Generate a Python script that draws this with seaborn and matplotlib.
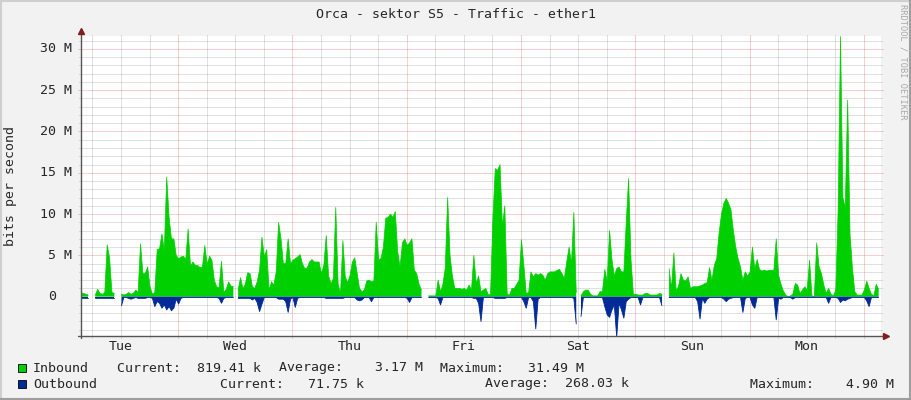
import matplotlib.pyplot as plt
import matplotlib.transforms as mtransforms
from matplotlib.patches import Rectangle
from matplotlib.lines import Line2D
import numpy as np
import pandas as pd
import seaborn as sns

sns.set_style("white")
plt.rcParams['font.family'] = ['DejaVu Sans Mono']

nan = np.nan

# half-hour samples (Mbit/s), graph starts Tue ~03:36
inbound = [
    0.5, 0.4, 0.3, 0.2, nan, nan, 0.2, 0.9, 0.4, 0.3,
    0.5, 6.3, 4.7, 0.5, 0.4, nan, nan, 0.3, 0.2, 0.3,
    0.5, 0.3, 0.4, 0.8, 0.5, 6.4, 2.8, 2.8, 3.6, 1.2,
    0.3, 0.5, 5.7, 5.8, 7.6, 5.6, 14.5, 9.6, 7.0, 7.0,
    5.0, 4.6, 4.8, 4.9, 4.5, 8.2, 3.7, 4.2, 3.8, 3.8,
    3.5, 3.6, 6.2, 3.9, 4.9, 4.4, 2.0, 1.2, 1.1, 4.3,
    0.5, 0.9, 1.8, 1.3, 1.2, nan, 0.8, 2.3, 1.0, 1.5,
    2.9, 2.8, 1.2, 1.0, 1.8, 3.2, 7.2, 4.8, 5.7, 0.8,
    1.8, 1.4, 3.0, 9.0, 7.0, 4.0, 4.0, 7.0, 4.0, 4.4,
    4.6, 4.8, 5.1, 4.0, 3.4, 3.5, 4.2, 4.5, 4.2, 4.2,
    4.2, 2.8, 3.8, 7.4, 2.5, 1.6, 2.2, 10.8, 1.5, 0.4,
    6.8, 2.4, 1.7, 2.6, 4.2, 4.7, 2.8, 1.0, 0.6, 0.8,
    1.9, 2.0, 1.8, 1.9, 9.0, 4.5, 4.6, 6.0, 9.5, 9.6,
    10.0, 9.6, 10.3, 5.5, 3.6, 6.5, 7.0, 6.2, 6.5, 7.0,
    3.2, 2.8, 1.5, 0.8, nan, nan, 0.1, 0.1, 0.1, 0.1,
    2.0, 0.6, 1.5, 3.5, 12.0, 5.0, 2.5, 1.0, 1.0, 1.0,
    0.9, 1.0, 0.8, 1.4, 0.8, 5.0, 1.6, 2.5, 0.6, 0.8,
    1.0, 0.3, 0.2, 9.5, 15.5, 15.3, 16.0, 8.5, 11.0, 0.3,
    0.2, 1.0, 1.0, 1.5, 2.0, 6.9, 3.8, 0.4, 0.5, 3.0,
    2.4, 2.8, 2.6, 2.8, 2.6, 2.0, 2.8, 3.0, 3.0, 3.0,
    3.2, 3.3, 2.8, 2.2, 4.2, 6.0, 4.0, 10.2, 0.5, nan,
    0.1, 0.6, 0.8, 0.8, 0.3, 0.1, 0.1, 0.1, 0.6, 0.6,
    3.3, 1.9, 8.0, 4.5, 2.5, 3.4, 3.6, 3.0, 3.0, 9.0,
    14.3, 4.5, 0.3, 0.3, 0.2, 0.2, 0.2, 0.4, 0.4, 0.2,
    0.2, 0.2, 0.2, 0.4, 0.3, nan, nan, 3.4, 1.0, 5.3,
    0.7, 1.3, 2.8, 2.0, 1.9, 2.4, 1.0, 1.2, 1.2, 1.2,
    1.3, 1.4, 1.6, 1.7, 3.5, 2.0, 3.8, 4.6, 7.7, 10.0,
    11.3, 11.9, 11.3, 10.5, 8.0, 6.0, 4.6, 3.6, 2.0, 3.0,
    2.5, 3.0, 6.0, 3.4, 4.5, 3.3, 3.1, 3.2, 3.1, 3.2,
    3.2, 3.2, 7.0, 2.6, 1.5, 0.7, 0.2, 0.0, 0.1, 0.3,
    1.6, 1.4, 0.4, 0.8, 1.2, 0.8, 4.4, 0.1, 0.0, 6.5,
    3.6, 2.8, 1.4, 0.4, 1.0, 0.3, 0.1, 0.8, 10.5, 31.5,
    12.0, 10.8, 23.8, 7.5, 3.5, 0.6, 0.2, 0.2, 0.2, 0.8,
    1.9, 1.0, 0.3, 0.1, 1.5, 0.9,
]
outbound = [
    0.1, 0.1, 0.1, 0.1, nan, nan, 0.1, 0.1, 0.1, 0.1,
    0.1, 0.1, 0.1, 0.1, 0.1, nan, nan, 1.1, 0.1, 0.1,
    0.2, 0.3, 0.2, 0.1, 0.2, 0.2, 0.2, 0.2, 0.1, 0.1,
    0.2, 1.2, 0.6, 0.8, 1.4, 1.0, 1.6, 1.2, 1.7, 1.4,
    0.3, 0.9, 0.2, 0.1, 0.1, 0.1, 0.1, 0.1, 0.1, 0.1,
    0.1, 0.1, 0.1, 0.1, 0.1, 0.1, 0.1, 0.1, 0.2, 0.8,
    0.2, 0.1, 0.1, 0.1, 0.1, nan, 0.2, 0.2, 0.2, 0.2,
    0.2, 0.2, 0.4, 0.2, 0.7, 1.8, 0.9, 0.1, 0.1, 0.1,
    0.1, 0.1, 0.1, 0.3, 0.3, 0.3, 0.6, 1.9, 0.3, 0.1,
    1.3, 0.2, 0.1, 0.1, 0.1, 0.1, 0.1, 0.1, 0.1, 0.1,
    0.1, 0.1, 0.1, 0.2, 0.2, 0.2, 0.2, 0.2, 0.2, 0.2,
    0.2, 0.1, 0.1, 0.1, 0.1, 0.1, 0.4, 0.5, 0.4, 0.1,
    0.1, 0.1, 0.6, 0.1, 0.1, 0.1, 0.1, 0.1, 0.1, 0.1,
    0.1, 0.1, 0.1, 0.1, 0.1, 0.1, 0.1, 0.2, 0.7, 0.1,
    0.1, 0.1, 0.1, 0.1, nan, nan, 0.1, 0.1, 0.1, 0.1,
    0.2, 1.0, 0.1, 0.1, 0.1, 0.1, 0.1, 0.1, 0.1, 0.1,
    0.1, 0.1, 0.1, 0.1, 0.1, 0.2, 0.2, 0.8, 3.0, 0.1,
    0.1, 0.1, 0.1, 0.1, 0.2, 0.2, 0.2, 0.2, 0.2, 0.1,
    0.1, 0.1, 0.1, 0.1, 0.1, 0.1, 0.6, 1.4, 0.1, 0.1,
    0.6, 3.9, 0.3, 0.1, 0.1, 0.1, 0.1, 0.1, 0.1, 0.1,
    0.1, 0.1, 0.1, 0.1, 0.1, 0.1, 0.1, 0.2, 3.3, nan,
    2.4, 0.1, 0.1, 0.1, 0.1, 0.1, 0.1, 0.1, 0.1, 0.1,
    1.2, 2.2, 2.5, 1.6, 1.0, 4.9, 0.8, 1.6, 2.6, 0.6,
    0.3, 0.1, 0.1, 0.1, 0.1, 1.0, 0.1, 0.1, 0.1, 0.1,
    0.1, 0.1, 0.1, 0.1, 1.1, nan, nan, 0.1, 0.1, 0.1,
    0.1, 0.1, 0.1, 0.1, 0.1, 0.1, 0.1, 0.1, 0.1, 0.6,
    2.7, 0.2, 0.8, 0.3, 0.1, 0.1, 0.1, 0.1, 0.1, 0.1,
    0.3, 0.6, 0.3, 0.2, 0.1, 0.1, 0.1, 0.1, 1.9, 0.2,
    0.1, 0.1, 1.0, 1.4, 0.1, 0.1, 0.1, 0.1, 0.1, 0.1,
    0.1, 0.1, 2.8, 0.2, 0.3, 0.1, 0.1, 0.1, 0.1, 0.3,
    0.1, 0.1, 0.1, 0.1, 0.1, 0.1, 0.1, 0.1, 0.1, 0.1,
    0.1, 0.1, 0.1, 0.1, 0.8, 0.1, 0.1, 0.1, 0.2, 0.7,
    0.4, 0.5, 0.3, 0.2, 0.1, 0.1, 0.1, 0.1, 0.1, 0.1,
    0.5, 1.2, 0.1, 0.1, 0.1, 0.1,
]
days = ['Tue', 'Wed', 'Thu', 'Fri', 'Sat', 'Sun', 'Mon']
first_midnight = 20.4   # hours after graph start
y_labels = [0, 5, 10, 15, 20, 25, 30]

series_names = ['Inbound', 'Outbound']
series_colors = ['#00CF00', '#002A97']
stats = [
    ['Current:  819.41 k', 'Average:    3.17 M', 'Maximum:   31.49 M'],
    ['Current:   71.75 k', 'Average:  268.03 k', 'Maximum:    4.90 M'],
]

W, H = 911, 400
FS = 9.5
df = pd.DataFrame({'hours': np.arange(len(inbound)) * 0.5,
                   'inbound': inbound, 'outbound': outbound})
df['outbound_neg'] = -df['outbound']
# separate runs of known data so lines do not bridge unknown gaps
df['seg'] = df['inbound'].isna().cumsum()

fig = plt.figure(figsize=(W / 100, H / 100), dpi=100, facecolor='#F2F2F2')
ax = fig.add_axes([81 / W, 64 / H, 800 / W, 300 / H])
ax.set_facecolor('white')
for s in ax.spines.values():
    s.set_visible(False)

ymin, ymax = -4.76, 31.56
ax.set_xlim(0, 168)
ax.set_ylim(ymin, ymax)
px_x = 168 / 800.0
px_y = (ymax - ymin) / 300.0

# grid
dot = (0, (1, 1))
grid_col = (0.56, 0.56, 0.56, 0.55)
mgrid_col = (0.87, 0.31, 0.31, 0.55)
minor_y = [v for v in range(-4, 32) if v % 5 != 0]
major_y = [v for v in range(5, 32, 5)]
ax.hlines(minor_y, -2 * px_x, 168 + 2 * px_x, colors=[grid_col], linestyles=[dot], lw=0.72, zorder=1, clip_on=False)
ax.hlines(major_y, -3 * px_x, 168 + 2 * px_x, colors=[mgrid_col], linestyles=[dot], lw=0.72, zorder=1, clip_on=False)
six = np.arange(first_midnight - 18, 168, 6)
mid = [t for t in six if abs(((t - first_midnight) / 24) - round((t - first_midnight) / 24)) < 1e-6]
minor_x = [t for t in six if t not in mid]
ax.vlines(minor_x, ymin - 2 * px_y, ymax + 2 * px_y, colors=[grid_col], linestyles=[dot], lw=0.72, zorder=1, clip_on=False)
ax.vlines(mid, ymin - 2 * px_y, ymax + 2 * px_y, colors=[mgrid_col], linestyles=[dot], lw=0.72, zorder=1, clip_on=False)

# data
ax.fill_between(df['hours'], 0, df['inbound'], color=series_colors[0], lw=0, zorder=2)
ax.fill_between(df['hours'], 0, df['outbound_neg'], color=series_colors[1], lw=0, zorder=3)
sns.lineplot(data=df, x='hours', y='inbound', units='seg', estimator=None, ax=ax,
             color=series_colors[0], lw=0.5, zorder=2)
sns.lineplot(data=df, x='hours', y='outbound_neg', units='seg', estimator=None, ax=ax,
             color=series_colors[1], lw=0.6, zorder=3)
ax.set_xlabel('')
ax.set_ylabel('')

# axes + arrows
axis_col = '#555555'
arrow_col = '#801F1F'
ax.plot([-3 * px_x, 168 + 4 * px_x], [ymin, ymin], color=axis_col, lw=1.0, clip_on=False, zorder=5)
ax.plot([0, 0], [ymin - 2 * px_y, ymax + 2 * px_y], color=axis_col, lw=1.0, clip_on=False, zorder=5)
ax.plot([1.0 + 5 / 800], [0], marker='>', ms=5, color=arrow_col, transform=ax.transAxes, clip_on=False, zorder=6)
ax.plot([0], [1.0 + 5 / 300], marker='^', ms=5, color=arrow_col, transform=ax.transAxes, clip_on=False, zorder=6)

# x tick labels (days at noon)
noon = [first_midnight - 12 + 24 * k for k in range(len(days))]
ax.set_xticks(noon)
ax.set_xticklabels(days, fontsize=FS)
ax.set_yticks([])
ax.tick_params(axis='x', length=0, pad=3)

# y tick labels
tr = mtransforms.blended_transform_factory(ax.transAxes, ax.transData)
for v in y_labels:
    if v == 0:
        ax.text(-25 / 800, v, '0', transform=tr, ha='right', va='center', fontsize=FS)
    else:
        ax.text(-9 / 800, v, f'{v} M', transform=tr, ha='right', va='center', fontsize=FS)

# titles
fig.text(0.5, 1 - 15 / H, 'Orca - sektor S5 - Traffic - ether1', ha='center', va='center', fontsize=FS)
fig.text(11 / W, 1 - 186 / H, 'bits per second', rotation=90, ha='center', va='center', fontsize=FS)
fig.text(903 / W, 1 - 4 / H, 'RRDTOOL / TOBI OETIKER', rotation=270, ha='center', va='top',
         fontsize=6.2, color='#A8A8A8')

# legend
row_y = [368, 384]
stat_x = [[117, 279, 440], [220, 485, 750]]
for r in range(2):
    yy = 1 - row_y[r] / H
    fig.patches.append(Rectangle((18 / W, 1 - (row_y[r] + 4) / H), 8 / W, 8 / H, transform=fig.transFigure,
                                 facecolor=series_colors[r], edgecolor='#000000', lw=0.6))
    fig.text(33 / W, yy, series_names[r], ha='left', va='center', fontsize=FS)
    for k in range(3):
        fig.text(stat_x[r][k] / W, yy, stats[r][k], ha='left', va='center', fontsize=FS)

# 3D frame
fig.lines.append(Line2D([0, 1], [1 - 1 / H, 1 - 1 / H], transform=fig.transFigure, color='#CFCFCF', lw=1.5))
fig.lines.append(Line2D([1 / W, 1 / W], [0, 1], transform=fig.transFigure, color='#CFCFCF', lw=1.5))
fig.lines.append(Line2D([0, 1], [1 / H, 1 / H], transform=fig.transFigure, color='#9E9E9E', lw=1.5))
fig.lines.append(Line2D([1 - 1 / W, 1 - 1 / W], [0, 1], transform=fig.transFigure, color='#9E9E9E', lw=1.5))

fig.savefig('out.png', dpi=100, facecolor=fig.get_facecolor())
